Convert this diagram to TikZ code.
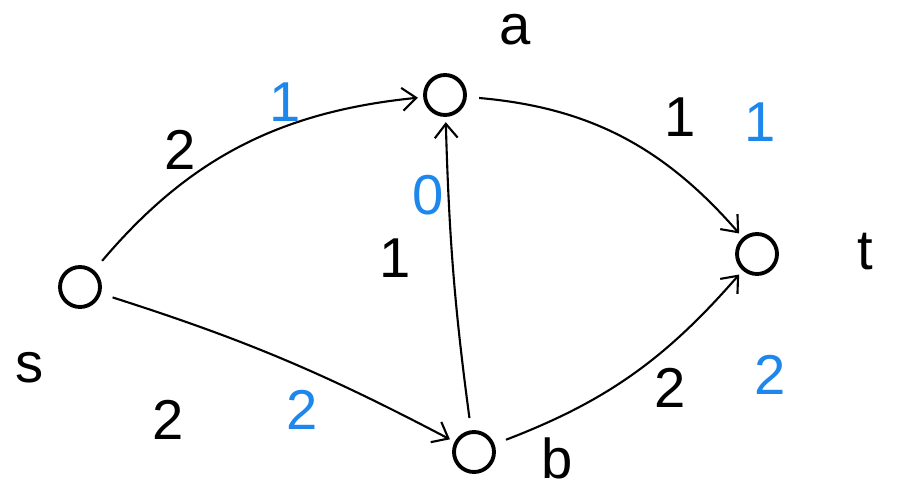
\documentclass[tikz,border=0pt]{standalone}
\usepackage{xcolor}
\usepackage{fontspec}
\setmainfont{Liberation Sans}
\usetikzlibrary{arrows.meta, positioning}

\definecolor{flowblue}{RGB}{30,135,235}

\begin{document}
\begin{tikzpicture}[
  x=0.02cm, y=-0.02cm,
  vertex/.style={draw, circle, line width=2.2pt, minimum size=0.8cm, inner sep=0pt},
  edge/.style={-{Straight Barb[length=8pt, width=13pt]}, line width=1.2pt, shorten <=7pt, shorten >=3pt},
  vlabel/.style={font=\fontsize{32}{34}\selectfont},
  capacity/.style={font=\fontsize{32}{34}\selectfont},
  flow/.style={capacity, text=flowblue}
]
\useasboundingbox (0,0) rectangle (901,496);

% vertices
\node[vertex] (s) at (80,287) {};
\node[vertex] (a) at (445,95) {};
\node[vertex] (t) at (757,254) {};
\node[vertex] (b) at (474,452) {};

\node[vlabel] (sname) at (30,368) {s};
\node[vlabel] (aname) at (515,30) {a};
\node[vlabel] (tname) at (865,252) {t};
\node[vlabel] (bname) at (557,458) {b};

% arcs
\draw[edge] (s) to[bend left=22] (a);
\draw[edge] (s) to[bend left=5] (b);
\draw[edge] (b) to[bend left=3] (a);
\draw[edge] (a) to[bend left=22] (t);
\draw[edge] (b) to[bend right=14] (t);

% capacities and flows
\node[capacity] (csa) at (180,150) {2};
\node[flow] (fsa) at (285,102) {1};
\node[capacity] (csb) at (168,420) {2};
\node[flow] (fsb) at (302,410) {2};
\node[capacity] (cba) at (395,258) {1};
\node[flow] (fba) at (428,195) {0};
\node[capacity] (cat) at (680,117) {1};
\node[flow] (fat) at (760,122) {1};
\node[capacity] (cbt) at (670,388) {2};
\node[flow] (fbt) at (770,375) {2};
\end{tikzpicture}
\end{document}
